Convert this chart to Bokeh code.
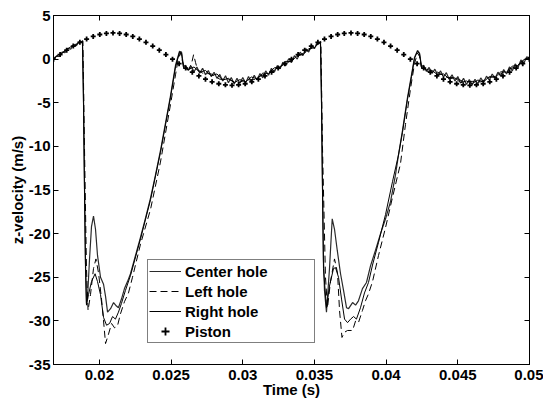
from bokeh.plotting import figure
from bokeh.models import Range1d, FixedTicker, LinearAxis, Legend
from bokeh.embed import file_html
from bokeh.resources import INLINE

# ---------------- data ----------------
x_ticks = [0.02, 0.025, 0.03, 0.035, 0.04, 0.045, 0.05]
x_tick_labels = ["0.02", "0.025", "0.03", "0.035", "0.04", "0.045", "0.05"]
y_ticks = [-35, -30, -25, -20, -15, -10, -5, 0, 5]
y_tick_labels = ["-35", "-30", "-25", "-20", "-15", "-10", "-5", "0", "5"]

center_t = [0.0168, 0.0170, 0.0172, 0.0174, 0.0176, 0.0178, 0.0180, 0.0182, 0.0184, 0.0186, 0.01875, 0.01882,
            0.01889, 0.01896, 0.01903, 0.01910,
            0.01920, 0.01931, 0.01945, 0.01959, 0.01973, 0.01987, 0.02008, 0.02029, 0.02043, 0.02057, 0.02078,
            0.02099, 0.02119, 0.02133, 0.02154, 0.02175, 0.02196, 0.02217, 0.02252, 0.02287, 0.02322, 0.02357,
            0.02391, 0.02426, 0.02447, 0.02496, 0.02531, 0.02559, 0.02573, 0.02587,
            0.0260, 0.0262, 0.0264, 0.0266, 0.0268, 0.0270, 0.0272, 0.0274, 0.0276, 0.0278, 0.0280, 0.0282,
            0.0284, 0.0286, 0.0288, 0.0290, 0.0292, 0.0294, 0.0296, 0.0298, 0.0300, 0.0302, 0.0304, 0.0306,
            0.0308, 0.0310, 0.0312, 0.0314, 0.0316, 0.0318, 0.0320, 0.0322, 0.0324, 0.0326, 0.0328, 0.0330,
            0.0332, 0.0334, 0.0336, 0.0338, 0.0340, 0.0342, 0.0344, 0.0346, 0.0348, 0.0350, 0.0352, 0.0354,
            0.03542,
            0.03549, 0.03556, 0.03563, 0.03570, 0.03584,
            0.03605, 0.03624, 0.0364, 0.03659, 0.03682, 0.03703, 0.03724, 0.03738, 0.03766, 0.03787, 0.03807,
            0.03835, 0.03863, 0.03891, 0.03926, 0.03961, 0.03996, 0.04031, 0.04065, 0.04086, 0.04114, 0.04149,
            0.04177, 0.04198, 0.04219, 0.04233, 0.04247,
            0.0426, 0.0428, 0.0430, 0.0432, 0.0434, 0.0436, 0.0438, 0.0440, 0.0442, 0.0444, 0.0446, 0.0448,
            0.0450, 0.0452, 0.0454, 0.0456, 0.0458, 0.0460, 0.0462, 0.0464, 0.0466, 0.0468, 0.0470, 0.0472,
            0.0474, 0.0476, 0.0478, 0.0480, 0.0482, 0.0484, 0.0486, 0.0488, 0.0490, 0.0492, 0.0494, 0.0496,
            0.0498, 0.0500]
center_v = [0.0, 0.35, 0.3, 0.8, 0.75, 1.25, 1.15, 1.65, 1.55, 2.05, 1.9, 2.1,
            -4.0, -14.0, -23.0, -28.0,
            -26.5, -23.0, -19.2, -18.0, -19.5, -22.5, -25.0, -25.8, -27.2, -29.0, -28.6,
            -27.9, -28.3, -28.5, -27.5, -26.3, -25.5, -24.6, -22.5, -20.4, -18.2, -15.9,
            -13.3, -10.5, -8.6, -4.2, -0.7, 0.9, 0.8, -0.9,
            -0.7, -1.3, -0.8, -1.45, -0.9, -1.6, -1.05, -1.8, -1.3, -2.0, -1.5, -2.2,
            -1.75, -2.5, -1.9, -2.7, -2.1, -2.85, -2.2, -2.8, -2.1, -2.75, -2.0, -2.6,
            -1.85, -2.4, -1.65, -2.15, -1.35, -1.85, -1.05, -1.5, -0.75, -1.1, -0.35, -0.75,
            0.05, -0.4, 0.4, 0.0, 0.8, 0.4, 1.2, 0.8, 1.6, 1.2, 1.95, 1.75,
            2.0,
            -4.0, -14.0, -23.0, -26.5, -29.0,
            -24.0, -18.3, -19.5, -21.9, -24.6, -26.5, -28.5, -28.6, -27.9, -28.2, -27.7,
            -26.3, -25.6, -23.7, -21.9, -20.0, -18.3, -16.3, -13.3, -11.0, -8.2, -4.4,
            -1.8, 0.2, 1.0, 0.7, -0.9,
            -0.7, -1.4, -0.95, -1.65, -1.15, -1.85, -1.35, -2.05, -1.55, -2.3, -1.8, -2.5,
            -2.0, -2.75, -2.2, -2.9, -2.35, -2.95, -2.3, -2.85, -2.15, -2.65, -1.95, -2.4,
            -1.7, -2.2, -1.5, -1.95, -1.2, -1.7, -0.9, -1.35, -0.55, -0.95, -0.1, -0.5,
            0.25, 0.15]

right_t = [0.0168, 0.0171, 0.0174, 0.0177, 0.0180, 0.0183, 0.0186, 0.01882,
           0.01889, 0.01896, 0.01903, 0.0191,
           0.01924, 0.01945, 0.0197, 0.01987, 0.02008, 0.02029, 0.0205, 0.02071, 0.02092, 0.02112, 0.02133,
           0.02154, 0.02182, 0.02217, 0.02287, 0.02357, 0.02426, 0.02496, 0.02531, 0.02559, 0.02573, 0.02587,
           0.0262, 0.0266, 0.0270, 0.0274, 0.0278, 0.0282, 0.0286, 0.0290, 0.0294, 0.0298, 0.0302, 0.0306,
           0.0310, 0.0314, 0.0318, 0.0322, 0.0326, 0.0330, 0.0334, 0.0338, 0.0342, 0.0346, 0.0350, 0.03542,
           0.03549, 0.03556, 0.03563, 0.03584,
           0.03605, 0.03633, 0.03647, 0.03668, 0.03689, 0.0371, 0.03731, 0.03752, 0.03773, 0.03793, 0.03821,
           0.03849, 0.03877, 0.03905, 0.03947, 0.03996, 0.04045, 0.04086, 0.04114, 0.04149, 0.04177, 0.04198,
           0.04219, 0.04233, 0.04247,
           0.0428, 0.0432, 0.0436, 0.0440, 0.0444, 0.0448, 0.0452, 0.0456, 0.0460, 0.0464, 0.0468, 0.0472,
           0.0476, 0.0480, 0.0484, 0.0488, 0.0492, 0.0496, 0.0500]
right_v = [0.0, 0.5, 0.65, 1.1, 1.4, 1.5, 1.95, 2.0,
           -5.0, -15.0, -24.0, -28.2,
           -27.0, -25.5, -24.6, -25.5, -27.0, -29.6, -30.5, -30.3, -29.5, -29.8, -29.0,
           -28.0, -26.5, -24.8, -20.6, -16.1, -10.7, -4.4, -0.9, 0.8, 0.7, -1.0,
           -1.2, -0.9, -1.5, -1.3, -1.9, -1.7, -2.4, -2.2, -2.7, -2.35, -2.6, -2.05,
           -2.25, -1.6, -1.65, -1.0, -0.95, -0.25, -0.3, 0.45, 0.5, 1.2, 1.3, 2.0,
           -5.0, -15.0, -24.0, -28.5,
           -26.0, -24.0, -23.9, -25.0, -27.5, -29.8, -30.2, -29.8, -29.5, -29.8, -28.5,
           -26.8, -25.6, -23.6, -21.0, -17.8, -14.0, -11.0, -8.4, -4.6, -2.0, 0.1,
           0.9, 0.6, -1.0,
           -1.2, -1.3, -1.8, -1.7, -2.25, -2.15, -2.7, -2.5, -2.8, -2.4, -2.6, -2.0,
           -2.1, -1.45, -1.5, -0.8, -0.75, -0.05, 0.2]

left_t = [0.0168, 0.0172, 0.0176, 0.0180, 0.0184, 0.01885,
          0.01896, 0.0191, 0.01921,
          0.01938, 0.01959, 0.01976, 0.01994, 0.02015, 0.02029, 0.02043, 0.02064, 0.02085, 0.02106, 0.02126,
          0.02147, 0.02175, 0.02203, 0.02231, 0.02287, 0.02357, 0.02426, 0.02461, 0.02496, 0.02531, 0.02552,
          0.02566, 0.0258, 0.02594, 0.02622, 0.02643, 0.02657, 0.02671, 0.02684,
          0.0272, 0.0278, 0.0284, 0.0290, 0.0296, 0.0302, 0.0308, 0.0314, 0.0320, 0.0326, 0.0332, 0.0338,
          0.0344, 0.0350, 0.03545,
          0.03556, 0.03577, 0.03591,
          0.03612, 0.0364, 0.03661, 0.03675, 0.03692, 0.0371, 0.03731, 0.03766, 0.03787, 0.03807, 0.03835,
          0.03856, 0.03877, 0.03905, 0.03947, 0.03996, 0.04045, 0.041, 0.04135, 0.0417, 0.04198, 0.04219,
          0.04233, 0.04247,
          0.0430, 0.0436, 0.0442, 0.0448, 0.0454, 0.0460, 0.0466, 0.0472, 0.0478, 0.0484, 0.0490, 0.0496,
          0.0500]
left_v = [0.0, 0.55, 0.95, 1.4, 1.75, 2.1,
          -10.0, -24.0, -28.8,
          -27.0, -24.0, -22.9, -24.5, -27.5, -30.0, -32.6, -31.5, -30.3, -30.8, -30.6,
          -29.2, -27.8, -26.8, -25.0, -21.2, -17.2, -11.8, -8.5, -5.2, -1.8, 0.2,
          0.7, -0.3, -1.0, -1.2, -0.5, 0.5, -0.4, -1.2,
          -1.6, -1.7, -2.3, -2.3, -2.75, -2.4, -2.35, -1.8, -1.5, -0.85, -0.35, 0.35,
          0.8, 1.5, 2.0,
          -10.0, -25.0, -28.5,
          -25.5, -22.9, -24.5, -28.8, -31.9, -31.3, -31.1, -31.1, -30.0, -30.2, -28.8,
          -27.7, -26.9, -25.5, -22.5, -19.3, -15.8, -12.0, -7.5, -3.4, -0.5, 0.7,
          0.3, -1.0,
          -1.5, -1.5, -2.1, -2.1, -2.6, -2.55, -2.6, -2.1, -1.9, -1.25, -0.9, -0.15,
          0.1]

piston_t = [0.01680, 0.01726, 0.01772, 0.01818, 0.01864, 0.01911, 0.01957, 0.02003, 0.02049, 0.02095,
            0.02141, 0.02187, 0.02233, 0.02279, 0.02325, 0.02372, 0.02418, 0.02464, 0.02510, 0.02556,
            0.02602, 0.02648, 0.02694, 0.02740, 0.02786, 0.02833, 0.02879, 0.02925, 0.02971, 0.03017,
            0.03063, 0.03109, 0.03155, 0.03201, 0.03247, 0.03294, 0.03340, 0.03386, 0.03432, 0.03478,
            0.03524, 0.03570, 0.03616, 0.03662, 0.03708, 0.03755, 0.03801, 0.03847, 0.03893, 0.03939,
            0.03985, 0.04031, 0.04077, 0.04123, 0.04169, 0.04216, 0.04262, 0.04308, 0.04354, 0.04400,
            0.04446, 0.04492, 0.04538, 0.04584, 0.04630, 0.04677, 0.04723, 0.04769, 0.04815, 0.04861,
            0.04907, 0.04953, 0.04999]
piston_v = [0.0, 0.52, 1.03, 1.5, 1.93, 2.3, 2.6, 2.82, 2.95, 3.0,
            2.95, 2.82, 2.6, 2.3, 1.93, 1.5, 1.03, 0.52, 0.0, -0.52,
            -1.03, -1.5, -1.93, -2.3, -2.6, -2.82, -2.95, -3.0, -2.95, -2.82,
            -2.6, -2.3, -1.93, -1.5, -1.03, -0.52, 0.0, 0.52, 1.03, 1.5,
            1.93, 2.3, 2.6, 2.82, 2.95, 3.0, 2.95, 2.82, 2.6, 2.3,
            1.93, 1.5, 1.03, 0.52, 0.0, -0.52, -1.03, -1.5, -1.93, -2.3,
            -2.6, -2.82, -2.95, -3.0, -2.95, -2.82, -2.6, -2.3, -1.93, -1.5,
            -1.03, -0.52, 0.0]

# ---------------- figure ----------------
FONT = "Liberation Sans"
FS = "15px"

p = figure(width=543, height=401, output_backend="svg", toolbar_location=None,
           x_range=Range1d(0.0168, 0.05), y_range=Range1d(-35, 5),
           min_border_left=53, min_border_right=14, min_border_top=15, min_border_bottom=37,
           background_fill_color="white", border_fill_color="white")
p.xgrid.visible = False
p.ygrid.visible = False
p.outline_line_color = "black"
p.outline_line_width = 1

r_c = p.line(center_t, center_v, line_color="#2a2a2a", line_width=1.2)
r_l = p.line(left_t, left_v, line_color="black", line_width=1, line_dash="7 4")
r_r = p.line(right_t, right_v, line_color="black", line_width=1)
r_p = p.scatter(piston_t, piston_v, marker="cross", size=5, line_color="black",
                line_width=1.8)

xt = FixedTicker(ticks=x_ticks)
yt = FixedTicker(ticks=y_ticks)


def style_axis(ax, ticker, labels=None):
    ax.ticker = ticker
    ax.major_tick_in = 5
    ax.major_tick_out = 0
    ax.minor_tick_line_color = None
    ax.major_tick_line_color = "black"
    ax.axis_line_color = "black"
    ax.major_label_text_font = FONT
    ax.major_label_text_font_style = "bold"
    ax.major_label_text_font_size = FS
    ax.major_label_text_color = "black"
    if labels is not None:
        ax.major_label_overrides = labels


style_axis(p.xaxis[0], xt, dict(zip(x_ticks, x_tick_labels)))
style_axis(p.yaxis[0], yt, dict(zip(y_ticks, y_tick_labels)))
p.xaxis[0].major_label_standoff = 5
p.yaxis[0].major_label_standoff = 3
p.xaxis[0].axis_label = "Time (s)"
p.yaxis[0].axis_label = "z-velocity (m/s)"
for ax in (p.xaxis[0], p.yaxis[0]):
    ax.axis_label_text_font = FONT
    ax.axis_label_text_font_style = "bold"
    ax.axis_label_text_font_size = FS
    ax.axis_label_text_color = "black"
p.xaxis[0].axis_label_standoff = -2
p.yaxis[0].axis_label_standoff = 0

# tick marks only (no labels) on top and right, as in a boxed plot
top = LinearAxis()
style_axis(top, xt)
top.major_label_text_font_size = "1px"
top.major_label_text_color = None
top.major_label_standoff = 0
right = LinearAxis()
style_axis(right, yt)
right.major_label_text_font_size = "1px"
right.major_label_text_color = None
right.major_label_standoff = 0
p.add_layout(top, "above")
p.add_layout(right, "right")

legend = Legend(items=[("Center hole", [r_c]), ("Left hole", [r_l]),
                       ("Right hole", [r_r]), ("Piston", [r_p])],
                location=(94, 21))
legend.label_text_font = FONT
legend.label_text_font_style = "bold"
legend.label_text_font_size = FS
legend.label_text_color = "black"
legend.border_line_color = "black"
legend.border_line_width = 1
legend.background_fill_alpha = 1
legend.padding = 1
legend.margin = 0
legend.spacing = 0
legend.glyph_width = 32
legend.glyph_height = 20
legend.label_height = 20
legend.label_standoff = 4
legend.label_width = 128
p.add_layout(legend, "center")

open("out.html", "w").write(file_html(p, INLINE))
